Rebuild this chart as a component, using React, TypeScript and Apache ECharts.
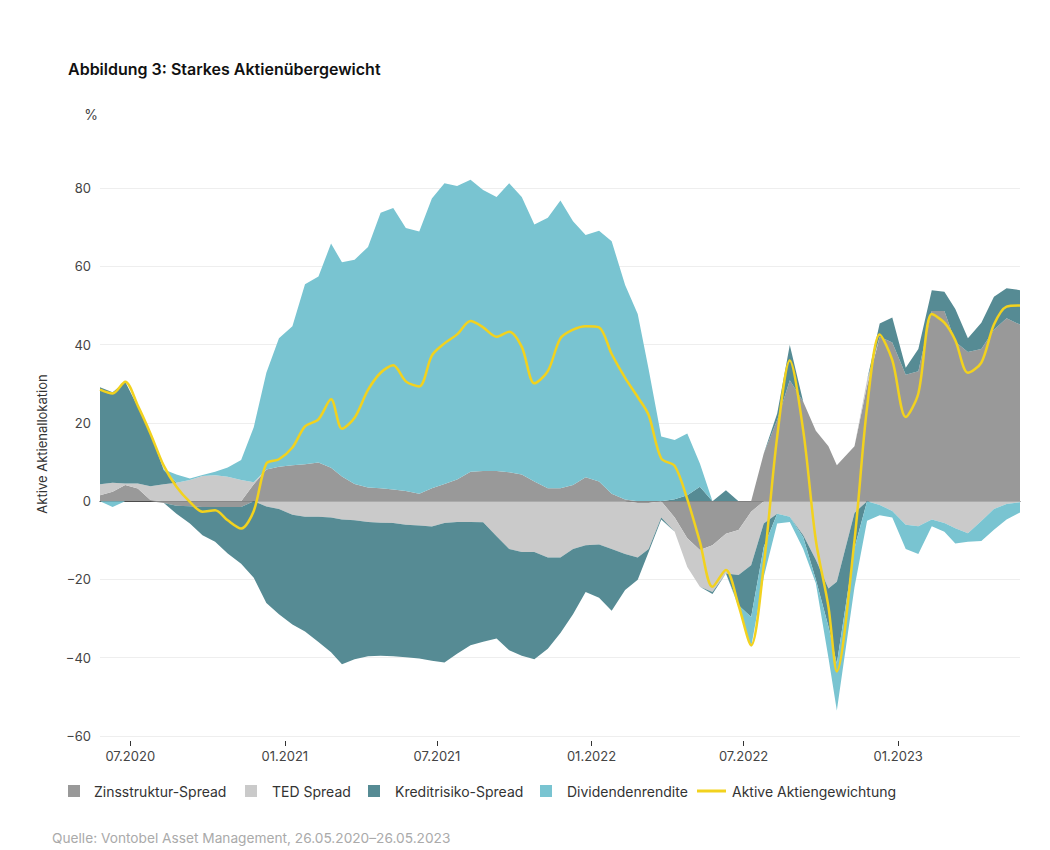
import React, { useEffect, useRef } from 'react';
import * as echarts from 'echarts';

const FONT = 'Inter, "Noto Sans", sans-serif';

// Semi-monthly samples (percent contribution)
const dates = [
  '2020-05-26', '2020-06-10', '2020-06-25', '2020-07-10', '2020-07-25', '2020-08-10', '2020-08-25',
  '2020-09-10', '2020-09-25', '2020-10-10', '2020-10-25', '2020-11-10', '2020-11-25', '2020-12-10', '2020-12-25',
  '2021-01-10', '2021-01-25', '2021-02-10', '2021-02-25', '2021-03-10', '2021-03-25', '2021-04-10', '2021-04-25',
  '2021-05-10', '2021-05-25', '2021-06-10', '2021-06-25', '2021-07-10', '2021-07-25', '2021-08-10', '2021-08-25',
  '2021-09-10', '2021-09-25', '2021-10-10', '2021-10-25', '2021-11-10', '2021-11-25', '2021-12-10', '2021-12-25',
  '2022-01-10', '2022-01-25', '2022-02-10', '2022-02-25', '2022-03-10', '2022-03-25', '2022-04-10', '2022-04-25',
  '2022-05-10', '2022-05-25', '2022-06-10', '2022-06-25', '2022-07-10', '2022-07-25', '2022-08-10', '2022-08-25',
  '2022-09-10', '2022-09-25', '2022-10-10', '2022-10-20', '2022-11-10', '2022-11-25', '2022-12-10', '2022-12-25',
  '2023-01-10', '2023-01-25', '2023-02-10', '2023-02-25', '2023-03-10', '2023-03-25', '2023-04-10', '2023-04-25',
  '2023-05-10', '2023-05-26',
];

const zinsstrukturSpread = [
  1.5, 2.4, 4.1, 3.2, 0.3, -0.5, -1.2, -1.3, -1.5, -1.5, -1.5, -1.5, 4.3, 8.1, 8.8,
  9.2, 9.4, 9.9, 8.5, 6.3, 4.4, 3.5, 3.3, 3.0, 2.6, 1.9, 3.3, 4.4, 5.5, 7.5, 7.7, 7.7, 7.4, 6.8, 5.0, 3.3, 3.3, 4.1, 6.1,
  5.0, 1.9, 0.4, -0.5, -0.5, 0, -4.2, -9.5, -12.5, -11.3, -8.3, -7.4, -2.7, 12.2, 20.7, 30.9, 25.4, 18.0, 14.0, 9.2, 14.0, 29.5, 42.0, 40.5,
  32.3, 33.2, 48.6, 48.6, 40.7, 38.1, 38.9, 43.8, 46.7, 45.1,
];

const tedSpread = [
  2.8, 2.3, 0.4, 1.3, 3.5, 4.3, 4.7, 5.4, 6.4, 6.6, 6.2, 5.4, 0.5, -1.4, -2.0,
  -3.5, -4.0, -4.0, -4.2, -4.7, -4.9, -5.3, -5.5, -5.6, -6.0, -6.2, -6.5, -5.6, -5.3, -5.3, -5.4, -9.0, -12.2, -13.0, -13.0, -14.4, -14.4, -12.2, -11.3,
  -11.1, -12.2, -13.5, -13.9, -11.7, -4.2, -3.6, -7.3, -9.4, -11.9, -10.2, -11.5, -13.7, -5.7, -3.2, -4.0, -8.7, -15.0, -22.3, -20.6, -3.0, 1.5, -1.0, -2.5,
  -6.0, -6.4, -4.7, -5.6, -6.9, -8.2, -5.1, -2.0, -0.7, -0.3,
];

const kreditrisikoSpread = [
  24.8, 23.1, 26.0, 19.6, 13.6, 3.6, -2.0, -4.4, -7.2, -8.9, -11.9, -14.5, -19.6, -24.6, -26.9,
  -28.0, -29.3, -32.0, -34.4, -37.0, -35.5, -34.3, -34.0, -34.0, -33.9, -34.0, -34.3, -35.6, -33.7, -31.5, -30.5, -26.1, -25.9, -26.5, -27.4, -23.3, -19.3, -16.7, -11.9,
  -13.6, -15.8, -9.2, -5.7, -0.8, -0.5, 0.5, 1.5, 3.7, -0.5, 2.8, -7.7, -13.2, -6.0, 1.7, 9.0, -0.5, -5.0, -9.7, -20.9, -9.0, 0, 3.4, 6.4,
  1.8, 5.7, 5.3, 4.9, 8.4, 3.5, 6.7, 8.4, 7.7, 8.8,
];

const dividendenrendite = [
  0, -1.5, 0, 0, 0.3, 0.2, 2.1, 0.4, 0.3, 0.9, 2.4, 5.1, 14.1, 24.7, 32.8,
  35.5, 46.0, 47.5, 57.3, 54.7, 57.3, 61.4, 70.4, 71.9, 67.2, 67.0, 74.0, 76.8, 75.0, 74.6, 71.8, 70.0, 73.8, 70.9, 65.7, 69.1, 73.5, 67.4, 61.9,
  64.1, 64.5, 54.8, 47.8, 33.7, 16.5, 15.1, 15.8, 5.9, 0, 0, -0.4, -7.7, -7.7, -2.5, -1.3, -3.0, -1.0, -8.0, -12.0, -10.0, -5.0, -2.6, -1.7,
  -6.2, -7.1, -1.7, -2.2, -3.9, -2.2, -5.1, -5.3, -4.0, -2.6,
];

const aktiveAktiengewichtung = [
  28.5, 27.5, 30.5, 24.4, 17.3, 9.0, 3.7, -0.2, -2.7, -2.3, -4.9, -7.0, -2.5, 9.6, 10.7,
  13.7, 19.1, 20.9, 26.0, 18.5, 21.3, 28.4, 32.8, 34.7, 30.6, 29.3, 37.2, 40.3, 42.6, 46.0, 44.4, 42.0, 43.3, 39.4, 30.1, 33.2, 41.6, 43.8, 44.7,
  44.4, 37.6, 31.5, 26.6, 22.0, 10.9, 9.0, 0.5, -10.4, -21.9, -17.6, -26.6, -36.8, -16.4, 16.5, 35.9, 18.0, -10.0, -27.0, -43.5, -10.0, 24.0, 42.6, 36.0,
  21.5, 27.5, 47.8, 45.6, 41.1, 32.8, 35.4, 45.1, 49.7, 50.0,
];

const xTickDates = ['2020-07-01', '2021-01-01', '2021-07-01', '2022-01-01', '2022-07-01', '2023-01-01'];
const startDate = '2020-05-26';
const endDate = '2023-05-26';

const COLORS = {
  zins: '#999999',
  ted: '#cacaca',
  kredit: '#568b94',
  div: '#79c4d1',
  line: '#f2d21e',
};

const toTime = (d: string) => new Date(d + 'T00:00:00').getTime();
const pairs = (vals: number[]) => dates.map((d, i) => [toTime(d), vals[i]]);
const minus = (v: number) => (v < 0 ? '\u2212' + Math.abs(v) : String(v));

// each contribution is drawn as a positive and a negative part, so that
// sign changes don't produce slivers across the zero line
function areaSeries(name: string, values: number[], color: string, side: 'pos' | 'neg') {
  const part = values.map(v => (side === 'pos' ? Math.max(v, 0) : Math.min(v, 0)));
  return {
    name,
    type: 'line' as const,
    xAxisIndex: 0,
    stack: side,
    data: pairs(part),
    symbol: 'none',
    showSymbol: false,
    clip: false,
    silent: true,
    lineStyle: { width: 0 },
    itemStyle: { color },
    areaStyle: { color, opacity: 1 },
    z: 2,
  };
}

function legendItems() {
  const items: any[] = [];
  const boxes = [
    { x: 68, tx: 94, label: 'Zinsstruktur-Spread', color: COLORS.zins },
    { x: 245, tx: 272, label: 'TED Spread', color: COLORS.ted },
    { x: 368, tx: 395, label: 'Kreditrisiko-Spread', color: COLORS.kredit },
    { x: 540, tx: 567, label: 'Dividendenrendite', color: COLORS.div },
  ];
  boxes.forEach(b => {
    items.push({ type: 'rect', shape: { x: b.x, y: 785, width: 12, height: 12 }, style: { fill: b.color } });
    items.push({
      type: 'text', x: b.tx, y: 791,
      style: { text: b.label, fill: '#333', fontSize: 14, fontFamily: FONT, verticalAlign: 'middle' },
    });
  });
  items.push({
    type: 'line', shape: { x1: 697, y1: 791, x2: 726, y2: 791 },
    style: { stroke: COLORS.line, lineWidth: 3 },
  });
  items.push({
    type: 'text', x: 732, y: 791,
    style: { text: 'Aktive Aktiengewichtung', fill: '#333', fontSize: 14, fontFamily: FONT, verticalAlign: 'middle' },
  });
  return items;
}

export default function App() {
  const ref = useRef<HTMLDivElement>(null);

  useEffect(() => {
    if (!ref.current) return;
    const chart = echarts.init(ref.current, undefined, { renderer: 'svg' });
    const tickValues = xTickDates.map(toTime);
    const fmtDate = (v: number) => {
      const d = new Date(v);
      return String(d.getMonth() + 1).padStart(2, '0') + '.' + d.getFullYear();
    };

    const components: [string, number[], string][] = [
      ['Zinsstruktur-Spread', zinsstrukturSpread, COLORS.zins],
      ['TED Spread', tedSpread, COLORS.ted],
      ['Kreditrisiko-Spread', kreditrisikoSpread, COLORS.kredit],
      ['Dividendenrendite', dividendenrendite, COLORS.div],
    ];

    chart.setOption({
      animation: false,
      backgroundColor: '#ffffff',
      textStyle: { fontFamily: FONT },
      grid: { left: 100, right: 30, top: 188, bottom: 114 },
      xAxis: [
        {
          // data axis; its line marks the zero level
          type: 'time',
          min: toTime(startDate),
          max: toTime(endDate),
          position: 'bottom',
          axisLine: { show: true, onZero: true, lineStyle: { color: '#333', width: 1 } },
          axisTick: { show: false },
          axisLabel: { show: false },
          splitLine: { show: false },
        },
        {
          // label axis with half-year ticks
          type: 'value',
          min: toTime(startDate),
          max: toTime(endDate),
          position: 'bottom',
          offset: 5,
          axisLine: { show: false, onZero: false },
          axisTick: { show: true, length: 5, lineStyle: { color: '#333' }, customValues: tickValues },
          axisLabel: {
            customValues: tickValues,
            formatter: fmtDate,
            color: '#444',
            fontSize: 13,
            margin: 8,
            fontFamily: FONT,
          },
          splitLine: { show: false },
        },
      ],
      yAxis: {
        type: 'value',
        min: -60,
        max: 80,
        interval: 20,
        axisLine: { show: false },
        axisTick: { show: false },
        axisLabel: { color: '#444', fontSize: 13, margin: 9, fontFamily: FONT, formatter: minus },
        splitLine: { lineStyle: { color: '#eeeeee', width: 1 } },
      },
      series: [
        ...components.map(([n, v, c]) => areaSeries(n, v, c, 'pos')),
        ...components.map(([n, v, c]) => areaSeries(n, v, c, 'neg')),
        {
          name: 'Aktive Aktiengewichtung',
          type: 'line',
          xAxisIndex: 0,
          data: pairs(aktiveAktiengewichtung),
          symbol: 'none',
          showSymbol: false,
          smooth: 0.3,
          clip: false,
          silent: true,
          lineStyle: { color: COLORS.line, width: 2.5 },
          itemStyle: { color: COLORS.line },
          z: 5,
        },
      ],
      graphic: [
        {
          type: 'text', x: 68, y: 69,
          style: {
            text: 'Abbildung 3: Starkes Aktienübergewicht', fill: '#111',
            fontSize: 16, fontWeight: 600, fontFamily: FONT, verticalAlign: 'middle',
          },
        },
        {
          type: 'text', x: 91, y: 114,
          style: { text: '%', fill: '#444', fontSize: 14, fontFamily: FONT, align: 'center', verticalAlign: 'middle' },
        },
        {
          type: 'text', x: 42, y: 444, rotation: Math.PI / 2,
          style: {
            text: 'Aktive Aktienallokation', fill: '#333', fontSize: 13, fontFamily: FONT,
            align: 'center', verticalAlign: 'middle',
          },
        },
        ...legendItems(),
        {
          type: 'text', x: 52, y: 838,
          style: {
            text: 'Quelle: Vontobel Asset Management, 26.05.2020–26.05.2023', fill: '#aaaaaa',
            fontSize: 13.7, fontFamily: FONT, verticalAlign: 'middle',
          },
        },
      ],
    });

    return () => chart.dispose();
  }, []);

  return (
    <div style={{ position: 'fixed', left: 0, top: 0, width: 1050, height: 850, background: '#fff' }}>
      <div ref={ref} style={{ width: 1050, height: 850 }} />
    </div>
  );
}
